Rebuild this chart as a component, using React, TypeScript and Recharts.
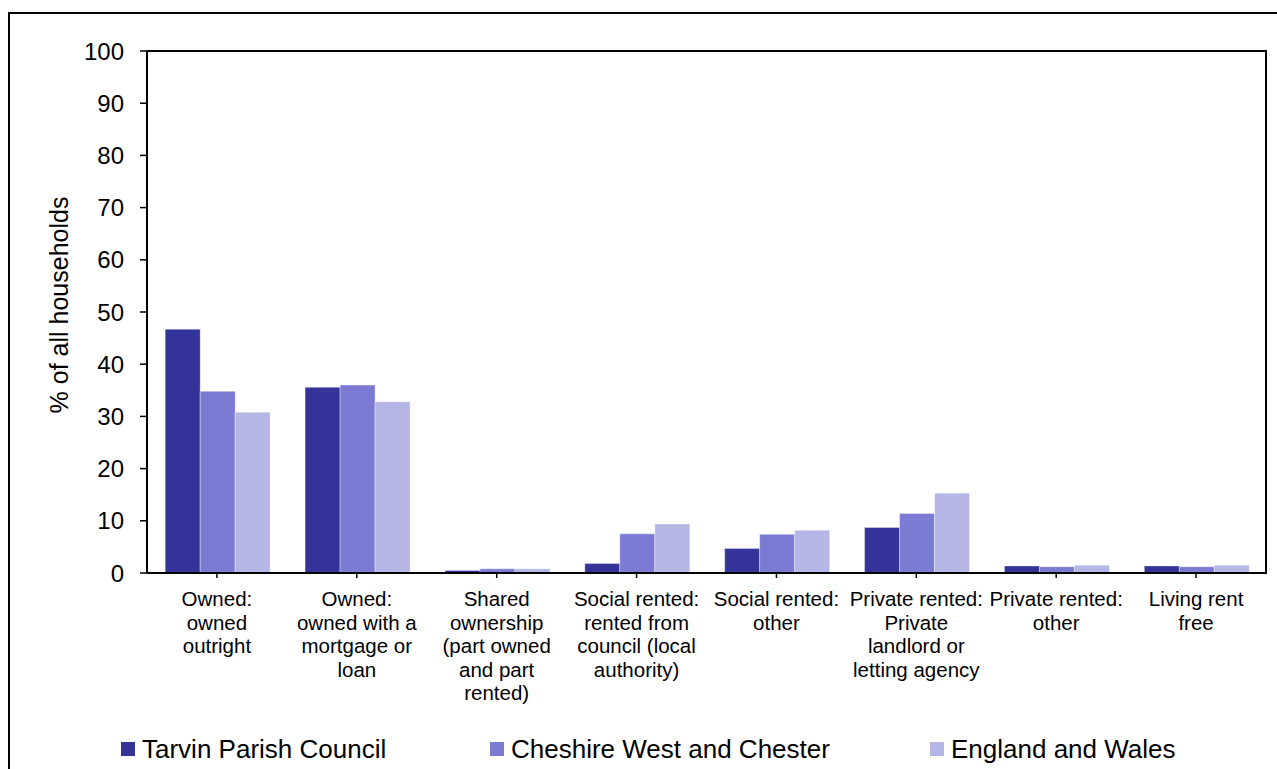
import React from "react";
import { BarChart, Bar, XAxis, YAxis, Label } from "recharts";

const categories = [
  ["Owned:", "owned", "outright"],
  ["Owned:", "owned with a", "mortgage or", "loan"],
  ["Shared", "ownership", "(part owned", "and part", "rented)"],
  ["Social rented:", "rented from", "council (local", "authority)"],
  ["Social rented:", "other"],
  ["Private rented:", "Private", "landlord or", "letting agency"],
  ["Private rented:", "other"],
  ["Living rent", "free"],
];

const tarvin = [46.7, 35.6, 0.5, 1.8, 4.7, 8.7, 1.35, 1.35];
const cheshire = [34.8, 36.0, 0.8, 7.5, 7.4, 11.4, 1.2, 1.2];
const englandWales = [30.8, 32.8, 0.8, 9.4, 8.2, 15.3, 1.5, 1.5];

const yTicks = [0, 10, 20, 30, 40, 50, 60, 70, 80, 90, 100];

const series = [
  { key: "tarvin", name: "Tarvin Parish Council", color: "#333399" },
  { key: "cheshire", name: "Cheshire West and Chester", color: "#7B7BD3" },
  { key: "ew", name: "England and Wales", color: "#B6B6E6" },
];

const data = categories.map((lines, i) => ({
  cat: lines.join(" "),
  tarvin: tarvin[i],
  cheshire: cheshire[i],
  ew: englandWales[i],
}));

const FONT = "Arial, 'Liberation Sans', sans-serif";

const CategoryTick = (props: any) => {
  const { x, y, index } = props;
  const lines = categories[index] || [];
  return (
    <text
      x={x}
      y={y + 26}
      textAnchor="middle"
      fontSize={20.5}
      fontFamily={FONT}
      fill="#000"
    >
      {lines.map((l, i) => (
        <tspan key={i} x={x} dy={i === 0 ? 0 : 23.5}>
          {l}
        </tspan>
      ))}
    </text>
  );
};

const legendLeft = [121, 490, 930];

export default function App() {
  return (
    <div
      style={{
        position: "absolute",
        left: 0,
        top: 0,
        width: 1277,
        height: 769,
        overflow: "hidden",
        background: "#fff",
        fontFamily: FONT,
      }}
    >
      {/* outer chart border (top + left only visible) */}
      <div
        style={{
          position: "absolute",
          left: 8,
          top: 12,
          width: 1269,
          height: 757,
          borderTop: "2px solid #000",
          borderLeft: "2px solid #000",
          boxSizing: "border-box",
        }}
      />
      <div style={{ position: "absolute", left: 0, top: 0 }}>
        <BarChart
          width={1277}
          height={769}
          data={data}
          margin={{ top: 51, right: 11, left: 0, bottom: 0 }}
          barCategoryGap="13%"
          barGap={0}
        >
          <XAxis
            dataKey="cat"
            height={196}
            interval={0}
            tickSize={5}
            tickMargin={2}
            axisLine={{ stroke: "#000", strokeWidth: 2 }}
            tickLine={{ stroke: "#000", strokeWidth: 1.5 }}
            tick={<CategoryTick />}
          />
          <YAxis
            width={147}
            domain={[0, 100]}
            ticks={yTicks}
            interval={0}
            tickSize={7}
            tickMargin={16}
            axisLine={{ stroke: "#000", strokeWidth: 2 }}
            tickLine={{ stroke: "#000", strokeWidth: 1.5 }}
            tick={{ fill: "#000", fontSize: 24, fontFamily: FONT }}
          >
            <Label
              content={() => (
                <text
                  x={68}
                  y={305}
                  transform="rotate(-90, 68, 305)"
                  textAnchor="middle"
                  fontSize={25}
                  fontFamily={FONT}
                  fill="#000"
                >
                  % of all households
                </text>
              )}
            />
          </YAxis>
          {series.map((s) => (
            <Bar
              key={s.key}
              dataKey={s.key}
              name={s.name}
              fill={s.color}
              stroke="#ffffff"
              strokeOpacity={0.6}
              strokeWidth={0.6}
              isAnimationActive={false}
            />
          ))}
        </BarChart>
      </div>
      {/* plot frame: top and right edges */}
      <div
        style={{
          position: "absolute",
          left: 147,
          top: 50,
          width: 1120,
          height: 524,
          borderTop: "2px solid #000",
          borderRight: "2px solid #000",
          boxSizing: "border-box",
          pointerEvents: "none",
          zIndex: 5,
        }}
      />
      {series.map((s, i) => (
        <div
          key={s.key}
          style={{
            position: "absolute",
            left: legendLeft[i],
            top: 735,
            display: "flex",
            alignItems: "center",
            fontSize: 26,
            lineHeight: "28px",
            color: "#000",
            whiteSpace: "nowrap",
          }}
        >
          <span
            style={{
              display: "inline-block",
              width: 14,
              height: 14,
              background: s.color,
              marginRight: 7,
            }}
          />
          {s.name}
        </div>
      ))}
    </div>
  );
}
